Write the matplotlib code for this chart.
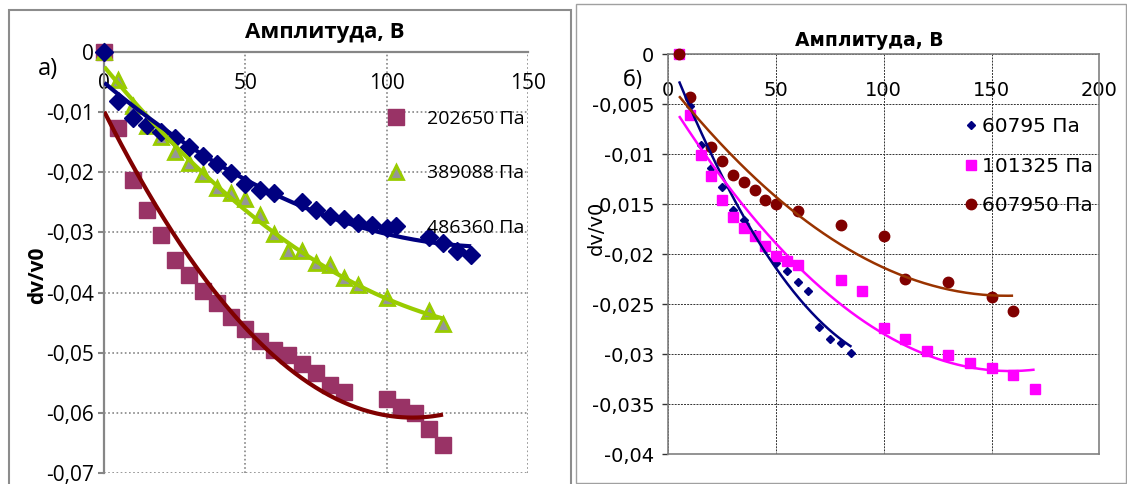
import numpy as np
import matplotlib
matplotlib.use("Agg")
import matplotlib.pyplot as plt
from matplotlib.patches import Rectangle
from matplotlib.ticker import FuncFormatter

W, H = 1127, 484

# ---- panel a) : dv/v0 vs amplitude, three pressures ----
p202650_x = [0, 5, 10, 15, 20, 25, 30, 35, 40, 45, 50, 55, 60, 65, 70, 75, 80, 85,
             100, 105, 110, 115, 120]
p202650_y = [0, -0.0127, -0.0213, -0.0262, -0.0305, -0.0346, -0.0371, -0.0397, -0.0417,
             -0.0440, -0.0460, -0.0481, -0.0496, -0.0504, -0.0518, -0.0534, -0.0554,
             -0.0565, -0.0577, -0.0591, -0.0601, -0.0627, -0.0654]

p389088_x = [0, 5, 10, 15, 20, 25, 30, 35, 40, 45, 50, 55, 60, 65, 70, 75, 80, 85, 90,
             100, 115, 120]
p389088_y = [0, -0.0047, -0.0090, -0.0123, -0.0141, -0.0166, -0.0184, -0.0203, -0.0226,
             -0.0234, -0.0245, -0.0271, -0.0302, -0.0331, -0.0331, -0.0351, -0.0354,
             -0.0375, -0.0387, -0.0409, -0.0431, -0.0453]

p486360_x = [0, 5, 10, 15, 20, 25, 30, 35, 40, 45, 50, 55, 60, 70, 75, 80, 85, 90, 95,
             100, 115, 120, 125, 130]
p486360_y = [0, -0.0082, -0.0110, -0.0121, -0.0133, -0.0143, -0.0158, -0.0173, -0.0187,
             -0.0202, -0.0220, -0.0230, -0.0235, -0.0249, -0.0263, -0.0273, -0.0278,
             -0.0284, -0.0288, -0.0293, -0.0307, -0.0318, -0.0331, -0.0338]

# ---- panel б) ----
p60795_x = [5, 10, 15, 20, 25, 30, 35, 40, 45, 50, 55, 60, 65, 70, 75, 80, 85]
p60795_y = [0, -0.0052, -0.0091, -0.0114, -0.0133, -0.0156, -0.0166, -0.0180, -0.0195,
            -0.0209, -0.0217, -0.0228, -0.0237, -0.0273, -0.0285, -0.0289, -0.0299]

p101325_x = [5, 10, 15, 20, 25, 30, 35, 40, 45, 50, 55, 60, 80, 90, 100, 110, 120, 130,
             140, 150, 160, 170]
p101325_y = [0, -0.0061, -0.0101, -0.0122, -0.0146, -0.0163, -0.0174, -0.0182, -0.0192,
             -0.0202, -0.0207, -0.0211, -0.0226, -0.0237, -0.0274, -0.0285, -0.0297,
             -0.0301, -0.0309, -0.0314, -0.0321, -0.0335]

p607950_x = [5, 10, 20, 25, 30, 35, 40, 45, 50, 60, 80, 100, 110, 130, 150, 160]
p607950_y = [0, -0.0043, -0.0093, -0.0107, -0.0121, -0.0128, -0.0136, -0.0146, -0.0150,
             -0.0157, -0.0171, -0.0182, -0.0225, -0.0228, -0.0243, -0.0257]

a_xticks = [0, 50, 100, 150]
a_yticks = [0, -0.01, -0.02, -0.03, -0.04, -0.05, -0.06, -0.07]
b_xticks = [0, 50, 100, 150, 200]
b_yticks = [0, -0.005, -0.01, -0.015, -0.02, -0.025, -0.03, -0.035, -0.04]

TITLE = "Амплитуда, В"
YLAB = "dv/v0"


def comma(v, pos=None):
    if abs(v) < 1e-12:
        return "0"
    return f"{v:g}".replace(".", ",")


def trend(ax, x, y, color, lw):
    # Excel-style 2nd order polynomial trendline over the data range
    c = np.polyfit(x, y, 2)
    xs = np.linspace(min(x), max(x), 200)
    ax.plot(xs, np.polyval(c, xs), color=color, lw=lw, zorder=4, solid_capstyle="butt")


fig = plt.figure(figsize=(W / 100, H / 100), dpi=100)


def px_axes(x0, y0, x1, y1):
    return fig.add_axes([x0 / W, 1 - y1 / H, (x1 - x0) / W, (y1 - y0) / H])


# ================= panel a =================
axA = px_axes(104.3, 52, 527.7, 473)
fa = "Open Sans"
hA1, = axA.plot(p202650_x, p202650_y, ls="none", marker="s", ms=11, color="#993366",
                mec="#993366", clip_on=False, zorder=3, label="202650 Па")
hA2, = axA.plot(p389088_x, p389088_y, ls="none", marker="^", ms=10, mfc="#969696",
                mec="#99cc00", mew=2, clip_on=False, zorder=3, label="389088 Па")
hA3, = axA.plot(p486360_x, p486360_y, ls="none", marker="D", ms=9.5, color="#000080",
                clip_on=False, zorder=3, label="486360 Па")
trend(axA, p202650_x, p202650_y, "#800000", 3)
trend(axA, p389088_x, p389088_y, "#99cc00", 3)
trend(axA, p486360_x, p486360_y, "#000080", 3)

axA.set_xlim(0, 150)
axA.set_ylim(-0.07, 0)
axA.set_xticks(a_xticks)
axA.set_yticks(a_yticks)
axA.yaxis.set_major_formatter(FuncFormatter(comma))
axA.grid(True, color="#868686", ls=(0, (1, 1.5)), lw=1.2)
axA.set_axisbelow(True)
for s in ["right", "bottom"]:
    axA.spines[s].set_visible(False)
for s in ["left", "top"]:
    axA.spines[s].set_color("#868686")
    axA.spines[s].set_linewidth(1.6)
axA.xaxis.set_ticks_position("top")
axA.tick_params(axis="x", length=0, pad=-30, labelsize=15, labelfontfamily=fa)
axA.tick_params(axis="y", direction="out", length=4, width=1.5, color="#868686",
                pad=3.5, labelsize=15, labelfontfamily=fa)
axA.legend(handles=[hA1, hA2, hA3], loc="upper left", bbox_to_anchor=(0.666, 0.862),
           frameon=False, prop={"family": fa, "size": 14}, handlelength=1.0,
           handletextpad=1.08, labelspacing=1.87, borderpad=0, borderaxespad=0,
           numpoints=1)

fig.text(325 / W, 1 - 33 / H, TITLE, ha="center", va="center", fontsize=16,
         fontweight="bold", family=fa)
fig.text(48 / W, 1 - 69 / H, "а)", ha="center", va="center", fontsize=17, family=fa)
fig.text(38 / W, 1 - 275 / H, YLAB, ha="center", va="center", rotation=90,
         fontsize=15, fontweight="bold", family=fa)

# ================= panel б =================
axB = px_axes(668.3, 54.3, 1099.3, 454)
fb = "DejaVu Sans"
hB1, = axB.plot(p60795_x, p60795_y, ls="none", marker="D", ms=4.5, color="#000080",
                clip_on=False, zorder=3, label="60795 Па")
hB2, = axB.plot(p101325_x, p101325_y, ls="none", marker="s", ms=7.5, color="#ff00ff",
                clip_on=False, zorder=3, label="101325 Па")
hB3, = axB.plot(p607950_x, p607950_y, ls="none", marker="o", ms=7.5, color="#800000",
                clip_on=False, zorder=3, label="607950 Па")
trend(axB, p60795_x, p60795_y, "#000080", 1.8)
trend(axB, p101325_x, p101325_y, "#ff00ff", 1.8)
trend(axB, p607950_x, p607950_y, "#993300", 1.8)

axB.set_xlim(0, 200)
axB.set_ylim(-0.04, 0)
axB.set_xticks(b_xticks)
axB.set_yticks(b_yticks)
axB.yaxis.set_major_formatter(FuncFormatter(comma))
axB.grid(True, color="#333333", ls=(0, (2, 1.2)), lw=0.7)
axB.set_axisbelow(True)
for s in axB.spines.values():
    s.set_color("#808080")
    s.set_linewidth(1.2)
axB.xaxis.set_ticks_position("top")
axB.tick_params(axis="x", length=0, pad=-33, labelsize=14)
axB.tick_params(axis="y", direction="out", length=4.5, width=1, color="#333333",
                pad=5.5, labelsize=14)
axB.legend(handles=[hB1, hB2, hB3], loc="upper left", bbox_to_anchor=(0.689, 0.842),
           frameon=False, prop={"family": fb, "size": 14.5}, handlelength=0.6,
           handletextpad=0.235, labelspacing=1.0, borderpad=0, borderaxespad=0,
           numpoints=1)

fig.text(869.5 / W, 1 - 40 / H, TITLE, ha="center", va="center", fontsize=13.5,
         fontweight="bold", family=fb)
fig.text(633 / W, 1 - 80 / H, "б)", ha="center", va="center", fontsize=15, family=fb)
fig.text(596 / W, 1 - 228 / H, YLAB, ha="center", va="center", rotation=90,
         fontsize=14, family=fb)

# panel frames
fig.add_artist(Rectangle((9 / W, 1 - 500 / H), (571 - 9) / W, (500 - 10) / H,
                         transform=fig.transFigure, fill=False, ec="#8c8c8c", lw=1.5))
fig.add_artist(Rectangle((576 / W, 1 - 482.7 / H), (1126 - 576) / W, (482.7 - 4) / H,
                         transform=fig.transFigure, fill=False, ec="#a0a0a0", lw=1.0))

fig.savefig("out.png", dpi=100)
